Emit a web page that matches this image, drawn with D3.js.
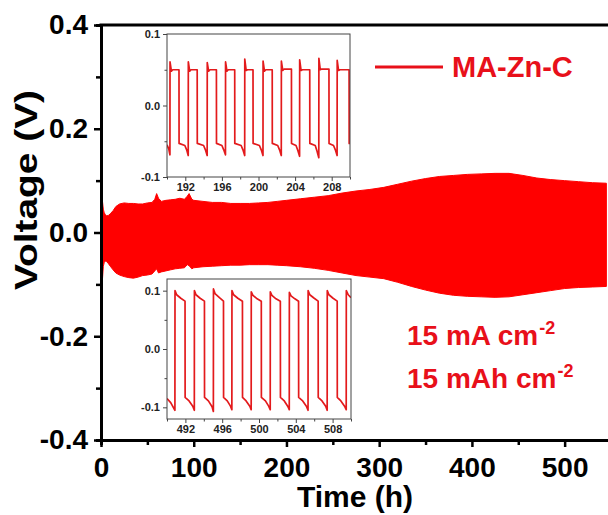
<!DOCTYPE html>
<html>
<head>
<meta charset="utf-8">
<script src="https://cdn.jsdelivr.net/npm/d3@7"></script>
<style>
  body { margin: 0; background: #fff; }
  text { font-family: "Liberation Sans", Arial, sans-serif; font-weight: bold; }
</style>
</head>
<body>
<svg id="chart" width="608" height="515"></svg>
<script>
// main cycling trace, read as the envelope of the dense band (time in h, volts)
var mainTime = [0, 0.8, 1.6, 2.5, 3.5, 4.5, 6, 8, 10, 13, 16, 20, 25, 30, 35, 40, 45, 50, 55, 58, 60, 62, 65,
  70, 75, 80, 85, 90, 93, 95, 98, 100, 110, 120, 130, 140, 150, 160, 170, 180, 190, 200, 215, 230, 245,
  260, 275, 290, 305, 320, 335, 350, 365, 380, 395, 410, 425, 440, 455, 470, 485, 500, 515, 530, 545];
var mainUpper = [0.12, 0.10, 0.06, 0.045, 0.038, 0.035, 0.032, 0.033, 0.036, 0.042, 0.05, 0.055, 0.057, 0.056,
  0.056, 0.055, 0.055, 0.057, 0.058, 0.064, 0.075, 0.066, 0.06, 0.062, 0.063, 0.064, 0.066, 0.064, 0.07,
  0.075, 0.064, 0.062, 0.06, 0.058, 0.058, 0.056, 0.056, 0.056, 0.057, 0.058, 0.06, 0.062, 0.065, 0.068,
  0.071, 0.076, 0.08, 0.083, 0.087, 0.093, 0.099, 0.104, 0.108, 0.11, 0.112, 0.113, 0.114, 0.114, 0.11,
  0.105, 0.102, 0.1, 0.098, 0.096, 0.095];
var mainLower = [-0.23, -0.16, -0.09, -0.065, -0.058, -0.055, -0.056, -0.06, -0.065, -0.072, -0.078, -0.082,
  -0.085, -0.087, -0.088, -0.086, -0.083, -0.082, -0.08, -0.074, -0.07, -0.078, -0.076, -0.074, -0.072,
  -0.07, -0.069, -0.068, -0.062, -0.064, -0.07, -0.068, -0.066, -0.065, -0.064, -0.063, -0.063, -0.062,
  -0.062, -0.062, -0.063, -0.064, -0.066, -0.069, -0.073, -0.078, -0.083, -0.086, -0.089, -0.096, -0.104,
  -0.111, -0.117, -0.121, -0.123, -0.124, -0.125, -0.124, -0.12, -0.116, -0.112, -0.108, -0.106, -0.105,
  -0.104];

// inset around 190-210 h
var topInsetPts = [
  [190.0, -0.055], [190.2, -0.061], [190.32, -0.069],
  [190.33, 0.061], [190.48, 0.048], [190.62, 0.050], [191.31, 0.050],
  [191.32, -0.053], [191.95, -0.056], [192.15, -0.062], [192.32, -0.070],
  [192.33, 0.061], [192.48, 0.048], [192.62, 0.050], [193.30, 0.050],
  [193.31, -0.053], [194.0, -0.056], [194.2, -0.062], [194.39, -0.070],
  [194.40, 0.060], [194.55, 0.048], [194.7, 0.050], [195.40, 0.050],
  [195.41, -0.053], [196.0, -0.056], [196.2, -0.062], [196.39, -0.069],
  [196.40, 0.061], [196.55, 0.048], [196.7, 0.050], [197.40, 0.050],
  [197.41, -0.053], [198.1, -0.056], [198.3, -0.062], [198.49, -0.070],
  [198.50, 0.065], [198.65, 0.049], [198.8, 0.050], [199.40, 0.050],
  [199.41, -0.053], [200.1, -0.056], [200.3, -0.062], [200.49, -0.070],
  [200.50, 0.062], [200.65, 0.048], [200.8, 0.050], [201.50, 0.050],
  [201.51, -0.053], [202.1, -0.056], [202.3, -0.062], [202.49, -0.070],
  [202.50, 0.062], [202.65, 0.049], [202.8, 0.051], [203.60, 0.051],
  [203.61, -0.053], [204.1, -0.056], [204.3, -0.063], [204.49, -0.071],
  [204.50, 0.064], [204.65, 0.049], [204.8, 0.050], [205.60, 0.050],
  [205.61, -0.053], [206.2, -0.056], [206.4, -0.064], [206.59, -0.073],
  [206.60, 0.066], [206.75, 0.050], [206.9, 0.051], [207.70, 0.051],
  [207.71, -0.053], [208.2, -0.056], [208.4, -0.062], [208.59, -0.070],
  [208.60, 0.063], [208.75, 0.049], [208.9, 0.050], [209.90, 0.050],
  [209.91, -0.053], [210.0, -0.053]
];

// inset around 490-510 h
var bottomInsetPts = [
  [490.0, -0.085], [490.4, -0.092], [490.86, -0.105],
  [490.87, 0.100], [491.05, 0.093], [491.5, 0.087], [491.96, 0.082],
  [491.97, -0.083], [492.4, -0.089], [492.8, -0.098], [492.97, -0.105],
  [492.98, 0.100], [493.15, 0.093], [493.6, 0.087], [494.07, 0.082],
  [494.08, -0.083], [494.5, -0.089], [494.9, -0.099], [495.04, -0.107],
  [495.05, 0.103], [495.22, 0.095], [495.7, 0.088], [496.14, 0.082],
  [496.15, -0.083], [496.55, -0.089], [496.9, -0.098], [497.05, -0.104],
  [497.06, 0.100], [497.24, 0.093], [497.7, 0.087], [498.20, 0.082],
  [498.21, -0.083], [498.6, -0.089], [499.0, -0.098], [499.15, -0.104],
  [499.16, 0.098], [499.34, 0.092], [499.8, 0.086], [500.25, 0.082],
  [500.26, -0.083], [500.7, -0.089], [501.05, -0.098], [501.22, -0.104],
  [501.23, 0.098], [501.4, 0.092], [501.85, 0.086], [502.32, 0.082],
  [502.33, -0.083], [502.75, -0.089], [503.12, -0.098], [503.29, -0.104],
  [503.30, 0.097], [503.48, 0.091], [503.9, 0.086], [504.30, 0.082],
  [504.31, -0.083], [504.75, -0.089], [505.15, -0.098], [505.33, -0.105],
  [505.34, 0.100], [505.52, 0.093], [506.0, 0.087], [506.43, 0.082],
  [506.44, -0.083], [506.85, -0.089], [507.25, -0.098], [507.41, -0.105],
  [507.42, 0.100], [507.6, 0.093], [508.05, 0.087], [508.50, 0.082],
  [508.51, -0.083], [508.9, -0.089], [509.3, -0.098], [509.48, -0.104],
  [509.49, 0.100], [509.7, 0.093], [510.0, 0.088]
];

var xTicks = [0, 100, 200, 300, 400, 500];
var yTicks = [-0.4, -0.2, 0.0, 0.2, 0.4];
var legendLabel = "MA-Zn-C";
var noteLines = [["15 mA cm", "-2"], ["15 mAh cm", "-2"]];

var svg = d3.select("#chart");
var red = "#ff0000";
var textRed = "#e8101a";
var fmt = function(d) { return d3.format(".1f")(d).replace("\u2212", "-"); };

var x = d3.scaleLinear().domain([0, 550]).range([101, 611]);
var y = d3.scaleLinear().domain([-0.4, 0.4]).range([440, 25]);

// band
var band = mainTime.map(function(t, i) { return {t: t, hi: mainUpper[i], lo: mainLower[i]}; });
svg.append("path")
  .datum(band)
  .attr("fill", red)
  .attr("stroke", red)
  .attr("stroke-width", 1)
  .attr("d", d3.area()
    .x(function(d) { return x(d.t); })
    .y0(function(d) { return y(d.lo); })
    .y1(function(d) { return y(d.hi); }));

// axes
function styleAxis(g, fs) {
  g.select(".domain").attr("stroke", "#000").attr("stroke-width", 3);
  g.selectAll(".tick line").attr("stroke", "#000").attr("stroke-width", 2.5);
  g.selectAll(".tick text").attr("font-size", fs).attr("fill", "#000")
    .attr("font-family", "Liberation Sans, Arial, sans-serif").attr("font-weight", "bold");
}

var xMinor = svg.append("g").attr("transform", "translate(0,440)")
  .call(d3.axisBottom(x).tickValues([50, 150, 250, 350, 450, 550]).tickSize(5).tickFormat(""));
styleAxis(xMinor, 0);
var yMinor = svg.append("g").attr("transform", "translate(101,0)")
  .call(d3.axisLeft(y).tickValues([-0.3, -0.1, 0.1, 0.3]).tickSize(5).tickFormat(""));
styleAxis(yMinor, 0);

var xAxis = svg.append("g").attr("transform", "translate(0,440)")
  .call(d3.axisBottom(x).tickValues(xTicks).tickSize(7).tickSizeOuter(0).tickPadding(10));
styleAxis(xAxis, 28);
var yAxis = svg.append("g").attr("transform", "translate(101,0)")
  .call(d3.axisLeft(y).tickValues(yTicks).tickSize(7).tickSizeOuter(0).tickPadding(6).tickFormat(fmt));
styleAxis(yAxis, 28);

svg.append("line")
  .attr("x1", 99.5).attr("x2", 608).attr("y1", 25).attr("y2", 25)
  .attr("stroke", "#000").attr("stroke-width", 3);

svg.append("text")
  .attr("x", 355).attr("y", 507)
  .attr("text-anchor", "middle").attr("font-size", 30)
  .text("Time (h)");
svg.append("text")
  .attr("transform", "translate(37,190) rotate(-90)")
  .attr("text-anchor", "middle").attr("font-size", 31)
  .attr("textLength", 200).attr("lengthAdjust", "spacingAndGlyphs")
  .text("Voltage (V)");

// legend
svg.append("line")
  .attr("x1", 375).attr("x2", 443).attr("y1", 67).attr("y2", 67)
  .attr("stroke", textRed).attr("stroke-width", 3);
svg.append("text")
  .attr("x", 452).attr("y", 77).attr("font-size", 29).attr("fill", textRed)
  .text(legendLabel);

// current density / capacity note
noteLines.forEach(function(n, i) {
  var t = svg.append("text")
    .attr("x", 407).attr("y", 345 + i * 43).attr("font-size", 28).attr("fill", textRed);
  t.append("tspan").text(n[0]);
  t.append("tspan").attr("dx", 1).attr("dy", -11).attr("font-size", 18).text(n[1]);
});

// insets
function drawInset(box, xDom, yDom, xLabels, xMinorTicks, yLabels, yMinorTicks, pts) {
  var ix = d3.scaleLinear().domain(xDom).range([box.x0, box.x1]);
  var iy = d3.scaleLinear().domain(yDom).range([box.y1, box.y0]);
  var g = svg.append("g");
  g.append("rect")
    .attr("x", box.x0).attr("y", box.y0)
    .attr("width", box.x1 - box.x0).attr("height", box.y1 - box.y0)
    .attr("fill", "#fff");

  g.append("clipPath").attr("id", "clip" + box.y0)
    .append("rect")
    .attr("x", box.x0).attr("y", box.y0)
    .attr("width", box.x1 - box.x0).attr("height", box.y1 - box.y0);
  g.append("path")
    .datum(pts)
    .attr("clip-path", "url(#clip" + box.y0 + ")")
    .attr("fill", "none")
    .attr("stroke", "#e31a1c")
    .attr("stroke-width", 1.7)
    .attr("stroke-linejoin", "round")
    .attr("d", d3.line().x(function(d) { return ix(d[0]); }).y(function(d) { return iy(d[1]); }));

  var gx = g.append("g").attr("transform", "translate(0," + box.y1 + ")");
  gx.call(d3.axisBottom(ix).tickValues(xMinorTicks).tickSize(2.5).tickFormat(""));
  var gx2 = g.append("g").attr("transform", "translate(0," + box.y1 + ")");
  gx2.call(d3.axisBottom(ix).tickValues(xLabels).tickSize(4).tickSizeOuter(0).tickPadding(2));
  var gy = g.append("g").attr("transform", "translate(" + box.x0 + ",0)");
  gy.call(d3.axisLeft(iy).tickValues(yMinorTicks).tickSize(2.5).tickFormat(""));
  var gy2 = g.append("g").attr("transform", "translate(" + box.x0 + ",0)");
  gy2.call(d3.axisLeft(iy).tickValues(yLabels).tickSize(4).tickSizeOuter(0).tickPadding(3).tickFormat(fmt));
  [gx, gx2, gy, gy2].forEach(function(a) {
    a.select(".domain").remove();
    a.selectAll(".tick line").attr("stroke", "#444").attr("stroke-width", 1);
    a.selectAll(".tick text").attr("font-size", 11).attr("fill", "#222")
      .attr("font-family", "Liberation Sans, Arial, sans-serif").attr("font-weight", "bold");
  });

  g.append("rect")
    .attr("x", box.x0).attr("y", box.y0)
    .attr("width", box.x1 - box.x0).attr("height", box.y1 - box.y0)
    .attr("fill", "none").attr("stroke", "#444").attr("stroke-width", 1);
}

drawInset({x0: 167, x1: 350, y0: 34, y1: 177}, [190, 210], [-0.1, 0.1],
  [192, 196, 200, 204, 208], [190, 194, 198, 202, 206, 210], [-0.1, 0.0, 0.1], [-0.05, 0.05], topInsetPts);
drawInset({x0: 167, x1: 351, y0: 279, y1: 419}, [490, 510], [-0.12, 0.12],
  [492, 496, 500, 504, 508], [490, 494, 498, 502, 506, 510], [-0.1, 0.0, 0.1], [-0.05, 0.05], bottomInsetPts);
</script>
</body>
</html>
